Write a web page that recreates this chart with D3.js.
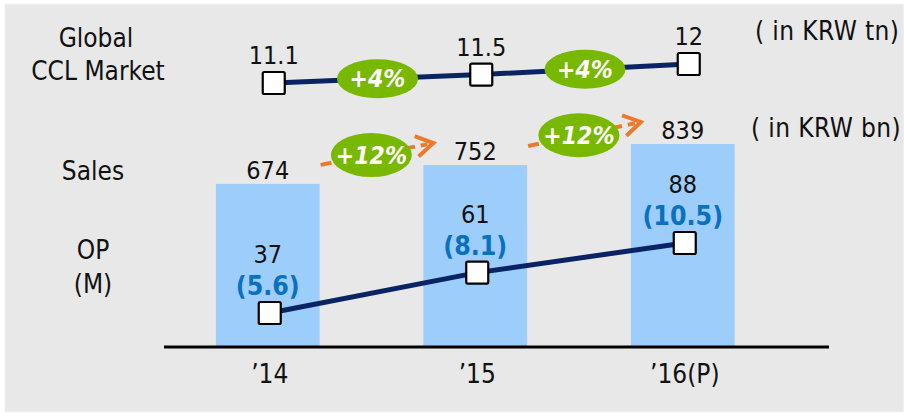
<!DOCTYPE html>
<html>
<head>
<meta charset="utf-8">
<script src="https://cdn.jsdelivr.net/npm/d3@7"></script>
<style>
  html, body { margin: 0; padding: 0; background: #ffffff; }
  svg { display: block; }
  text { font-family: "DejaVu Sans Condensed", "DejaVu Sans", sans-serif; }
</style>
</head>
<body>
<svg id="chart" width="904" height="416"></svg>
<script>
// Years on the category axis
const years = ["\u201914", "\u201915", "\u201916(P)"];
// Global CCL market size (KRW tn)
const marketSize = [11.1, 11.5, 12];
const marketGrowth = ["+4%", "+4%"];
// Sales (KRW bn)
const sales = [674, 752, 839];
const salesGrowth = ["+12%", "+12%"];
// Operating profit (KRW bn) and margin (%)
const opProfit = [37, 61, 88];
const opMargin = [5.6, 8.1, 10.5];

const W = 904, H = 416;
const svg = d3.select("#chart");

const C = {
  bg: "#e8e8e8",
  bar: "#9dcdfb",
  navy: "#0a2364",
  green: "#78b800",
  orange: "#ec7a2c",
  blue: "#0a70c0",
  text: "#111111"
};

// panel background
svg.append("rect").attr("x", 5).attr("y", 4).attr("width", W - 5).attr("height", 408)
  .attr("fill", C.bg).attr("stroke", "#f4f4f4").attr("stroke-width", 1);

// scales
const x = d3.scaleBand().domain(years).range([164, 786.5])
  .paddingInner(0.5).paddingOuter(0.25);
const bw = x.bandwidth();
const cx = d => x(d) + bw / 2;
const yBar = d3.scaleLinear().domain([0, 1434]).range([347, 0]);
const yMkt = d3.scaleLinear().domain([11.1, 12]).range([83, 64]);
const yOp = d3.scaleLog().domain([37, 88]).range([313, 243]);

// sales bars
svg.append("g").selectAll("rect").data(sales).join("rect")
  .attr("x", (d, i) => x(years[i]))
  .attr("y", d => yBar(d))
  .attr("width", bw)
  .attr("height", d => yBar(0) - yBar(d))
  .attr("fill", C.bar);

// category axis
const axis = svg.append("g").attr("transform", `translate(0,${yBar(0)})`)
  .call(d3.axisBottom(x).tickSize(0).tickPadding(0));
axis.select(".domain").remove();
axis.append("line").attr("x1", 164).attr("x2", 829).attr("y1", 0).attr("y2", 0)
  .attr("stroke", "#000").attr("stroke-width", 3);
axis.selectAll(".tick text")
  .attr("dy", null).attr("y", 36).attr("x", 2)
  .attr("font-size", 26).attr("fill", C.text)
  .style("font-family", '"DejaVu Sans Condensed", "DejaVu Sans", sans-serif');

// sales value labels
svg.append("g").selectAll("text").data(sales).join("text")
  .attr("x", (d, i) => cx(years[i]))
  .attr("y", d => yBar(d) - 5)
  .attr("text-anchor", "middle").attr("font-size", 25).attr("fill", C.text)
  .text(d => d);

// growth arrows between sales bars
const arrows = svg.append("g");
sales.slice(1).forEach((v, i) => {
  const x0 = x(years[i]) + bw + 1, y0 = yBar(sales[i]) - 19;
  const x1 = x(years[i + 1]) + 10, y1 = yBar(v) - 22;
  arrows.append("line").attr("x1", x0).attr("y1", y0).attr("x2", x1 - 6).attr("y2", y1 + 1.2)
    .attr("stroke", C.orange).attr("stroke-width", 4).attr("stroke-dasharray", "11,6");
  const ang = Math.atan2(y1 - y0, x1 - x0);
  const L = 20, a = 0.55;
  const p = d3.path();
  p.moveTo(x1 - L * Math.cos(ang - a), y1 - L * Math.sin(ang - a));
  p.lineTo(x1, y1);
  p.lineTo(x1 - L * Math.cos(ang + a), y1 - L * Math.sin(ang + a));
  arrows.append("path").attr("d", p.toString()).attr("fill", "none")
    .attr("stroke", C.orange).attr("stroke-width", 4).attr("stroke-linejoin", "miter");
  const ex = x0 + (x1 - x0) * 0.45, ey = y0 + (y1 - y0) * 0.45;
  arrows.append("ellipse").attr("cx", ex).attr("cy", ey).attr("rx", 40.5).attr("ry", 22)
    .attr("fill", C.green);
  arrows.append("text").attr("x", ex).attr("y", ey + 8.5)
    .attr("text-anchor", "middle").attr("font-size", 24.5).attr("font-weight", "bold")
    .attr("font-style", "italic").attr("fill", "#fff").text(salesGrowth[i]);
});

// operating profit line
const opPts = opProfit.map((d, i) => [cx(years[i]) + 2, yOp(d)]);
svg.append("path").attr("d", d3.line()(opPts)).attr("fill", "none")
  .attr("stroke", C.navy).attr("stroke-width", 5);
svg.append("g").selectAll("rect").data(opPts).join("rect")
  .attr("x", d => d[0] - 11).attr("y", d => d[1] - 11)
  .attr("width", 22).attr("height", 22).attr("rx", 1.5)
  .attr("fill", "#fff").attr("stroke", "#000").attr("stroke-width", 2.2);

// OP labels: profit above, margin in parentheses below it
const opLabelY = d => yOp(d) - 50;
svg.append("g").selectAll("text").data(opProfit).join("text")
  .attr("x", (d, i) => cx(years[i]))
  .attr("y", d => opLabelY(d))
  .attr("text-anchor", "middle").attr("font-size", 25).attr("fill", C.text)
  .text(d => d);
svg.append("g").selectAll("text").data(opMargin).join("text")
  .attr("x", (d, i) => cx(years[i]))
  .attr("y", (d, i) => opLabelY(opProfit[i]) + 32)
  .attr("text-anchor", "middle").attr("font-size", 26.5).attr("font-weight", "bold")
  .attr("fill", C.blue)
  .text(d => `(${d})`);

// global market line
const mPts = marketSize.map((d, i) => [cx(years[i]) + 6, yMkt(d)]);
svg.append("path").attr("d", d3.line()(mPts)).attr("fill", "none")
  .attr("stroke", C.navy).attr("stroke-width", 5);
const mg = svg.append("g");
marketGrowth.forEach((g, i) => {
  const ex = (mPts[i][0] + mPts[i + 1][0]) / 2, ey = (mPts[i][1] + mPts[i + 1][1]) / 2;
  mg.append("ellipse").attr("cx", ex).attr("cy", ey).attr("rx", 40.5).attr("ry", 19.5)
    .attr("fill", C.green);
  mg.append("text").attr("x", ex).attr("y", ey + 8.5)
    .attr("text-anchor", "middle").attr("font-size", 24.5).attr("font-weight", "bold")
    .attr("font-style", "italic").attr("fill", "#fff").text(g);
});
svg.append("g").selectAll("rect").data(mPts).join("rect")
  .attr("x", d => d[0] - 11).attr("y", d => d[1] - 11)
  .attr("width", 22).attr("height", 22).attr("rx", 1.5)
  .attr("fill", "#fff").attr("stroke", "#000").attr("stroke-width", 2.2);
svg.append("g").selectAll("text").data(marketSize).join("text")
  .attr("x", d => mPts[marketSize.indexOf(d)][0])
  .attr("y", d => yMkt(d) - 19)
  .attr("text-anchor", "middle").attr("font-size", 25).attr("fill", C.text)
  .text(d => d);

// row titles and units
const titles = svg.append("g").attr("font-size", 26).attr("fill", C.text).attr("text-anchor", "middle");
titles.append("text").attr("x", 96).attr("y", 47).text("Global");
titles.append("text").attr("x", 98).attr("y", 80).text("CCL Market");
titles.append("text").attr("x", 93).attr("y", 180).text("Sales");
titles.append("text").attr("x", 93).attr("y", 259).text("OP");
titles.append("text").attr("x", 93).attr("y", 293).text("(M)");
svg.append("text").attr("x", 755).attr("y", 40).attr("font-size", 26).attr("fill", C.text)
  .attr("letter-spacing", 0.4).text("( in KRW tn)");
svg.append("text").attr("x", 751).attr("y", 137).attr("font-size", 26).attr("fill", C.text)
  .attr("letter-spacing", 0.4).text("( in KRW bn)");
</script>
</body>
</html>
